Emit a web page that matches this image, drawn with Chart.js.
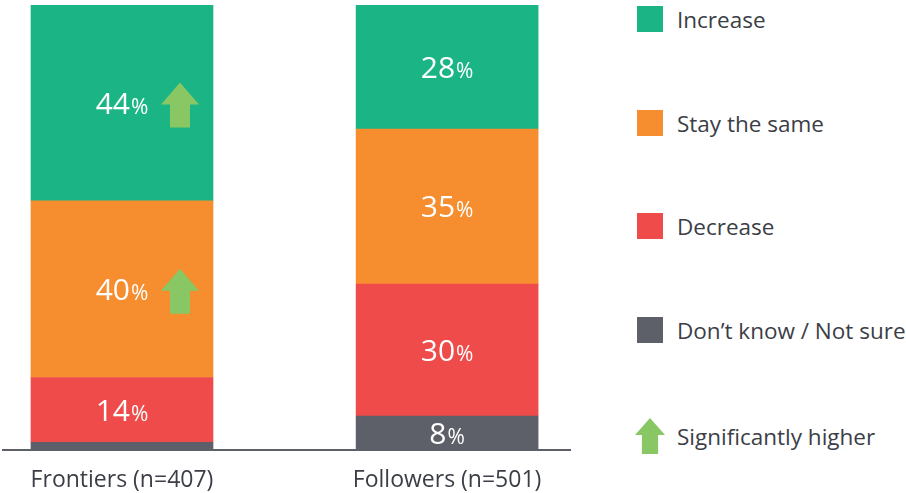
<!DOCTYPE html>
<html><head><meta charset="utf-8">
<script src="https://cdn.jsdelivr.net/npm/chart.js@4/dist/chart.umd.min.js"></script>
<style>
html,body{margin:0;padding:0;background:#fff;}
#wrap{position:relative;width:906px;height:493px;overflow:hidden;}
#chartBox{position:absolute;left:0;top:0;width:600px;height:510px;}
.leg{position:absolute;left:637px;height:26px;display:flex;align-items:center;font-family:'Open Sans';font-size:22.5px;color:#3b3e46;white-space:nowrap;}
.sw{width:26px;height:26px;margin-right:14px;flex:none;}
.arrow{width:30px;height:36px;margin-left:-2px;margin-right:12px;background:#88c764;clip-path:polygon(50% 0,100% 47%,77% 47%,77% 100%,23% 100%,23% 47%,0 47%);flex:none;}
</style></head>
<body><div id="wrap"><div id="chartBox"><canvas id="c"></canvas></div><div id="legend"></div></div>
<script>
const categories = ['Frontiers (n=407)', 'Followers (n=501)'];
const seriesNames = ['Increase', 'Stay the same', 'Decrease', 'Don\u2019t know / Not sure'];
const seriesColors = ['#1bb585', '#f68d2e', '#ef4b4b', '#5d6068'];
// segment sizes as measured from the bars
const increase = [44, 27.9];
const staySame = [39.7, 34.8];
const decrease = [14.6, 29.7];
const dontKnow = [1.7, 7.6];
// printed labels
const increaseLabels = [44, 28];
const staySameLabels = [40, 35];
const decreaseLabels = [14, 30];
const dontKnowLabels = [null, 8];
// significantly higher flags
const increaseSig = [true, false];
const staySameSig = [true, false];
const decreaseSig = [false, false];
const dontKnowSig = [false, false];
const sigLabel = 'Significantly higher';
const arrowColor = '#88c764';

const seriesVals = [increase, staySame, decrease, dontKnow];
const seriesLabels = [increaseLabels, staySameLabels, decreaseLabels, dontKnowLabels];
const seriesSig = [increaseSig, staySameSig, decreaseSig, dontKnowSig];

// legend (HTML)
const legend = document.getElementById('legend');
const legTops = [6, 110, 213, 317, 418];
seriesNames.forEach((n, i) => {
  const d = document.createElement('div');
  d.className = 'leg'; d.style.top = legTops[i] + 'px';
  const s = document.createElement('div'); s.className = 'sw'; s.style.background = seriesColors[i];
  d.appendChild(s); d.appendChild(document.createTextNode(n));
  legend.appendChild(d);
});
{
  const d = document.createElement('div');
  d.className = 'leg'; d.style.top = legTops[4] + 'px';
  const a = document.createElement('div'); a.className = 'arrow';
  d.style.height = '36px';
  d.appendChild(a); d.appendChild(document.createTextNode(sigLabel));
  legend.appendChild(d);
}

// datasets stacked bottom-up: reverse order
const order = [3, 2, 1, 0];
const datasets = order.map(si => ({
  label: seriesNames[si],
  data: seriesVals[si].map((v, i) => ({ x: i, y: v })),
  backgroundColor: seriesColors[si],
  borderWidth: 0,
  barThickness: 182,
  _labels: seriesLabels[si],
  _sig: seriesSig[si]
}));

function drawArrow(ctx, cx, cy) {
  const w = 38, h = 45, sw = 20, hh = 22;
  const top = cy - h / 2;
  ctx.beginPath();
  ctx.moveTo(cx, top);
  ctx.lineTo(cx + w / 2, top + hh);
  ctx.lineTo(cx + sw / 2, top + hh);
  ctx.lineTo(cx + sw / 2, top + h);
  ctx.lineTo(cx - sw / 2, top + h);
  ctx.lineTo(cx - sw / 2, top + hh);
  ctx.lineTo(cx - w / 2, top + hh);
  ctx.closePath();
  ctx.fillStyle = arrowColor;
  ctx.fill();
}

const segLabels = {
  id: 'segLabels',
  afterDatasetsDraw(chart) {
    const ctx = chart.ctx;
    chart.data.datasets.forEach((ds, di) => {
      const meta = chart.getDatasetMeta(di);
      meta.data.forEach((bar, i) => {
        const cy = (bar.y + bar.base) / 2;
        const lab = ds._labels[i];
        if (lab != null) {
          ctx.save();
          ctx.fillStyle = '#ffffff';
          ctx.textBaseline = 'alphabetic';
          const f1 = '30px "Open Sans"', f2 = '21px "Open Sans"';
          ctx.font = f1;
          const num = String(lab);
          const w1 = ctx.measureText(num).width;
          ctx.font = f2;
          const w2 = ctx.measureText('%').width;
          const x0 = bar.x - (w1 + w2 + 1) / 2;
          const base = cy + 10.7;
          ctx.font = f1;
          ctx.fillText(num, x0, base);
          ctx.font = f2;
          ctx.fillText('%', x0 + w1 + 1, base);
          ctx.restore();
        }
        if (ds._sig[i]) drawArrow(ctx, bar.x + 58, cy + 2);
      });
    });
  }
};

new Chart(document.getElementById('c'), {
  type: 'bar',
  data: { datasets },
  options: {
    responsive: true,
    maintainAspectRatio: false,
    animation: false,
    layout: { padding: { left: 3, right: 30, top: 5, bottom: 0 } },
    plugins: { legend: { display: false }, tooltip: { enabled: false } },
    scales: {
      x: {
        type: 'linear', stacked: true, min: -0.366, max: 1.378, offset: false,
        afterBuildTicks: (axis) => { axis.ticks = categories.map((c, i) => ({ value: i })); },
        ticks: {
          callback: (v) => categories[v], autoSkip: false, maxRotation: 0,
          color: '#3b3e46', font: { family: 'Open Sans', size: 23 }, padding: 16.2
        },
        grid: { display: false, drawTicks: false, tickLength: 0 },
        border: { display: true, color: '#5d6068', width: 2 }
      },
      y: { stacked: true, min: 0, max: 100, display: false }
    }
  },
  plugins: [segLabels]
});
</script></body></html>
